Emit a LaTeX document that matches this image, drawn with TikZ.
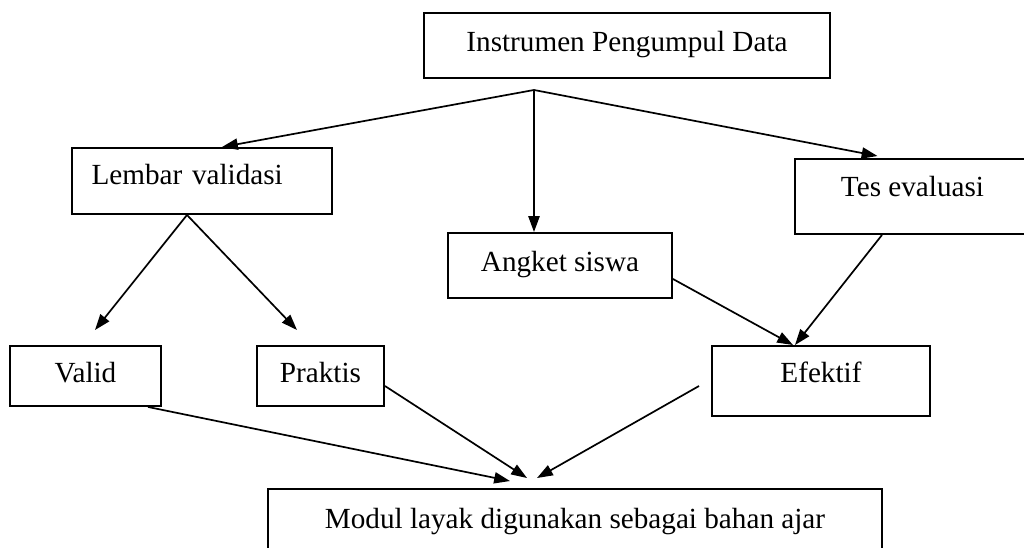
\documentclass[tikz,border=0pt]{standalone}
\usepackage{fontspec}
\setmainfont{Liberation Serif}
\usetikzlibrary{arrows.meta}
\newdimen\px \px=0.411pt

\begin{document}
\begin{tikzpicture}[
  x=\px, y=-\px,
  font=\fontsize{12pt}{14pt}\selectfont,
  box/.style={draw, line width=0.8pt, inner sep=0pt, text height=8.4pt},
  flow/.style={line width=0.7pt, -{Triangle[length=6.5pt, width=4.6pt]}},
]
  \useasboundingbox (0,0) rectangle (1024,548);

  \node[box, minimum width=406\px, minimum height=65\px, text depth=3.4pt] (instr) at (627, 45.5) {Instrumen Pengumpul Data};
  \node[box, minimum width=260\px, minimum height=66\px, text depth=5.4pt,
        text width=221\px, inner xsep=19.5\px, align=left] (lembar) at (202, 181) {Lembar validasi};
  \node[box, minimum width=224\px, minimum height=65\px, text depth=3.4pt] (angket) at (560, 265.5) {Angket siswa};
  \node[box, minimum width=235\px, minimum height=75\px, text depth=8.3pt] (tes) at (912.5, 196.5) {Tes evaluasi};
  \node[box, minimum width=151\px, minimum height=60\px, text depth=2.9pt] (valid) at (85.5, 376) {Valid};
  \node[box, minimum width=127\px, minimum height=60\px, text depth=2.9pt] (praktis) at (320.5, 376) {Praktis};
  \node[box, minimum width=218\px, minimum height=70\px, text depth=7pt] (efektif) at (821, 381) {Efektif};
  \node[box, minimum width=614\px, minimum height=71\px, text depth=4.9pt] (modul) at (575, 524.5) {Modul layak digunakan sebagai bahan ajar};

  \coordinate (top) at (534, 90);

  \draw[flow] (top) -- ([xshift=20\px]lembar.north);
  \draw[flow] (top) -- (top |- angket.north);
  \draw[flow] (top) -- ([xshift=-35\px, yshift=2\px]tes.north);

  \draw[flow] ([xshift=-15\px]lembar.south) -- ([xshift=9.5\px, yshift=15\px]valid.north);
  \draw[flow] ([xshift=-15\px]lembar.south) -- ([xshift=-23.5\px, yshift=15\px]praktis.north);
  \draw[flow] ([yshift=-13.5\px]angket.east) -- ([xshift=-28\px]efektif.north);
  \draw[flow] ([xshift=-30.5\px]tes.south) -- ([xshift=-26\px]efektif.north);

  \draw[flow] ([xshift=62.5\px]valid.south) -- ([xshift=-65\px, yshift=7\px]modul.north);
  \draw[flow] ([yshift=-10\px]praktis.east) -- ([xshift=-48\px, yshift=10\px]modul.north);
  \draw[flow] ([xshift=-12\px, yshift=-5\px]efektif.west) -- ([xshift=-38\px, yshift=10\px]modul.north);
\end{tikzpicture}
\end{document}
